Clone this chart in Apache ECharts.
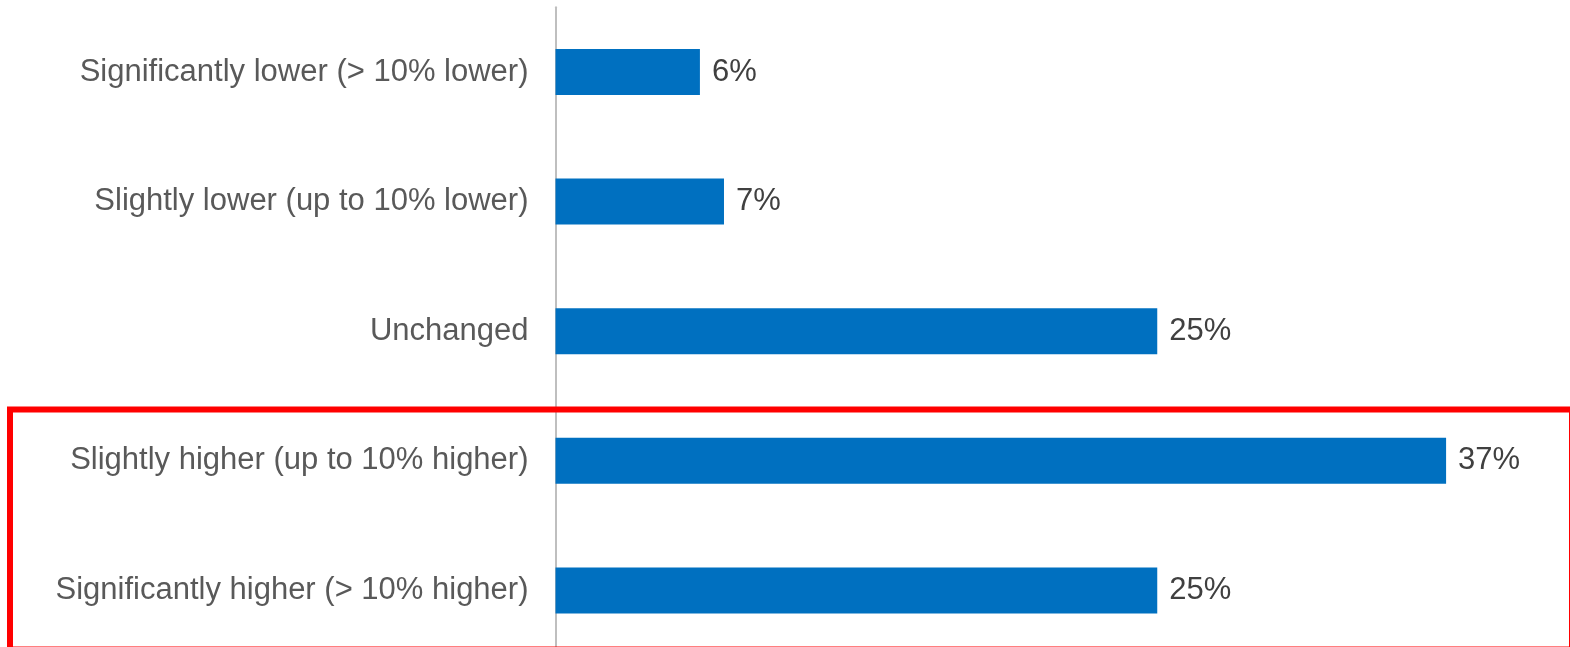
<!DOCTYPE html>
<html>
<head>
<meta charset="utf-8">
<style>
  html, body { margin: 0; padding: 0; background: #ffffff; }
  #chart { width: 1570px; height: 647px; }
</style>
<script src="https://cdn.jsdelivr.net/npm/echarts@6/dist/echarts.min.js"></script>
</head>
<body>
<div id="chart"></div>
<script>
// Expected change, listed top to bottom
const categories = [
  'Significantly lower (> 10% lower)',
  'Slightly lower (up to 10% lower)',
  'Unchanged',
  'Slightly higher (up to 10% higher)',
  'Significantly higher (> 10% higher)'
];
// Share of respondents, in percent
const shares = [6, 7, 25, 37, 25];

const chart = echarts.init(document.getElementById('chart'), null, { renderer: 'canvas' });

chart.setOption({
  animation: false,
  backgroundColor: '#ffffff',
  // plot area runs a little past the bottom edge of the canvas
  grid: {
    left: 555.5, width: 962.8, top: 7.2, height: 648,
    containLabel: false,
    outerBoundsMode: 'none'
  },
  xAxis: {
    type: 'value',
    min: 0,
    max: 40,
    interval: 10,
    show: false
  },
  yAxis: {
    type: 'category',
    inverse: true,
    data: categories,
    offset: 2,
    axisLine: { show: true, lineStyle: { color: '#bfbfbf', width: 2 } },
    axisTick: { show: false },
    axisLabel: {
      margin: 25,
      color: '#595959',
      fontFamily: 'Liberation Sans, Arial, sans-serif',
      fontSize: 31
    },
    splitLine: { show: false }
  },
  series: [{
    type: 'bar',
    data: shares,
    barWidth: 46,
    itemStyle: { color: '#0070c0' },
    label: {
      show: true,
      position: 'right',
      distance: 12,
      formatter: p => p.value + '%',
      color: '#404040',
      fontFamily: 'Liberation Sans, Arial, sans-serif',
      fontSize: 31
    }
  }],
  graphic: [{
    type: 'rect',
    silent: true,
    z: 100,
    shape: { x: 10, y: 409.5, width: 1562, height: 240 },
    style: { fill: 'none', stroke: '#ff0000', lineWidth: 6 }
  }]
});
</script>
</body>
</html>
